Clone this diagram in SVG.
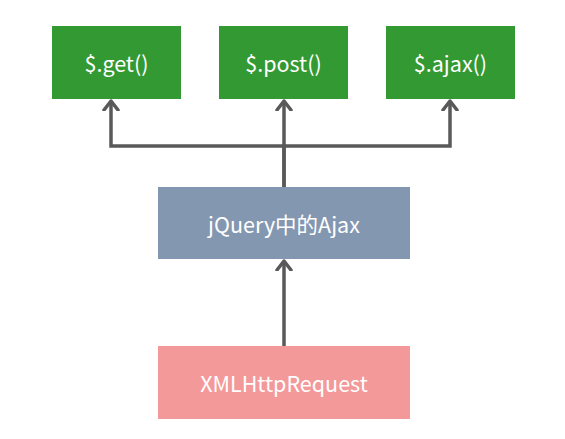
<svg xmlns="http://www.w3.org/2000/svg" width="565" height="439" viewBox="0 0 565 439">
<style>
.t{font-family:"Noto Sans CJK SC","Microsoft YaHei","Liberation Sans",sans-serif;font-size:21.5px;fill:#ffffff;text-anchor:middle;dominant-baseline:central}
.c{fill:none;stroke:#595959;stroke-width:3.5}
</style>
<defs>
<marker id="ah" markerUnits="userSpaceOnUse" markerWidth="20" markerHeight="20" viewBox="-10 -10 20 20" refX="0" refY="0" orient="auto">
<path d="M-9,-7 L0,0 L-9,7" fill="none" stroke="#595959" stroke-width="3.5" stroke-linecap="round" stroke-linejoin="round"/>
</marker>
</defs>
<rect width="565" height="439" fill="#ffffff"/>
<g id="connectors">
<path class="c" d="M284,187 L284,146 L111,146 L111,101" marker-end="url(#ah)"/>
<path class="c" d="M284,146 L450,146 L450,101" marker-end="url(#ah)"/>
<path class="c" d="M284,187 L284,101" marker-end="url(#ah)"/>
<path class="c" d="M284,346 L284,261" marker-end="url(#ah)"/>
</g>
<g id="get">
<rect x="52" y="26" width="129" height="73" fill="#339933"/>
<text class="t" x="116.5" y="62">$.get()</text>
</g>
<g id="post">
<rect x="219" y="26" width="129" height="73" fill="#339933"/>
<text class="t" x="283.5" y="62">$.post()</text>
</g>
<g id="ajax">
<rect x="386" y="26" width="129" height="73" fill="#339933"/>
<text class="t" x="450.5" y="62">$.ajax()</text>
</g>
<g id="jquery">
<rect x="158" y="187" width="252" height="72" fill="#8497b0"/>
<text class="t" x="284" y="223">jQuery中的Ajax</text>
</g>
<g id="xhr">
<rect x="158" y="346" width="252" height="73" fill="#f4999a"/>
<text class="t" x="284" y="382">XMLHttpRequest</text>
</g>
</svg>
